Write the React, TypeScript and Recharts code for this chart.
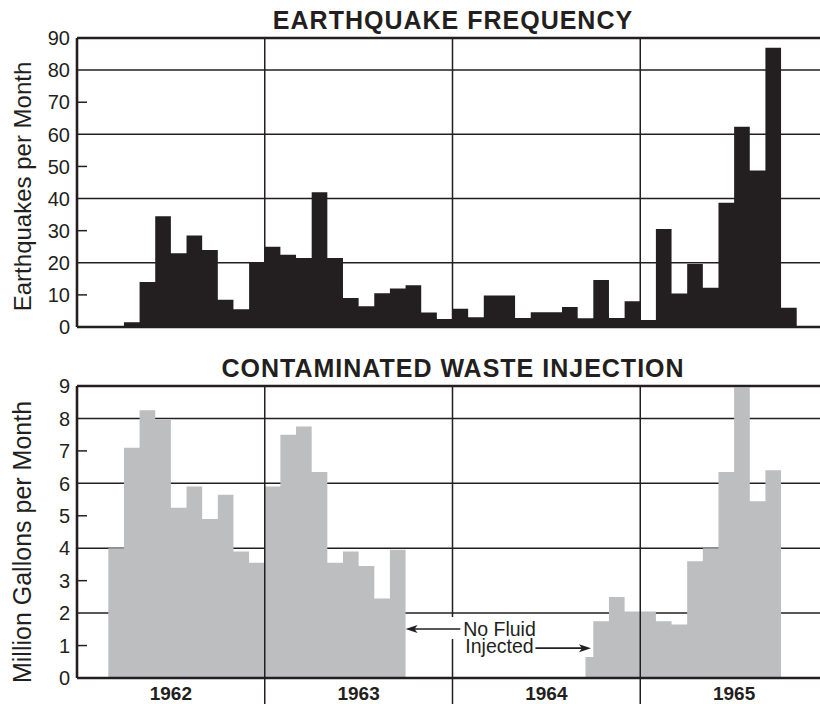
import { Area, CartesianGrid, ComposedChart, ReferenceDot, ReferenceLine, XAxis, YAxis } from 'recharts';

const FONT = '"Liberation Sans", Arial, Helvetica, sans-serif';
const INK = '#231f20';
const GRAY = '#bcbec0';

const years = ['1962', '1963', '1964', '1965'];

// earthquakes per month, Jan..Dec of each year
const quakes1962 = [0, 0, 0, 1.5, 14, 34.5, 23, 28.5, 24, 8.5, 5.5, 20];
const quakes1963 = [25, 22.5, 21.5, 42, 21.5, 9, 6.5, 10.5, 12, 13, 4.5, 2.5];
const quakes1964 = [5.7, 3, 9.8, 9.8, 2.8, 4.6, 4.6, 6.2, 2.7, 14.6, 2.8, 8];
const quakes1965 = [2.2, 30.5, 10.4, 19.6, 12.2, 38.7, 62.4, 48.7, 87, 6, 0, 0];

// million gallons injected per month
const waste1962 = [0, 0, 4, 7.1, 8.25, 7.95, 5.25, 5.9, 4.9, 5.65, 3.9, 3.55];
const waste1963 = [5.9, 7.5, 7.75, 6.35, 3.55, 3.9, 3.45, 2.45, 3.95, 0, 0, 0];
const waste1964 = [0, 0, 0, 0, 0, 0, 0, 0, 0.65, 1.75, 2.5, 2.05];
const waste1965 = [2.05, 1.75, 1.65, 3.6, 4, 6.35, 8.95, 5.45, 6.4, 0, 0, 0];

// injection resumed half way through Sep 1964
const resumed = { month: 32, fraction: 0.5 };

const quakeTicks = [0, 10, 20, 30, 40, 50, 60, 70, 80, 90];
const quakeGrid = [20, 40, 60, 80];
const wasteTicks = [0, 1, 2, 3, 4, 5, 6, 7, 8, 9];
const wasteGrid = [2, 4, 6, 8];
const yearBreaks = [12, 24, 36];
const yearCenters = [6, 18, 30, 42];

type Row = { t: number; v: number };

// monthly values -> step points (month index on x)
function toSteps(values: number[], split?: { month: number; fraction: number }): Row[] {
  const rows: Row[] = [];
  values.forEach((v, i) => {
    if (split && split.month === i) {
      rows.push({ t: i, v: 0 });
      rows.push({ t: i + split.fraction, v });
    } else {
      rows.push({ t: i, v });
    }
  });
  rows.push({ t: values.length, v: 0 });
  return rows;
}

const quakeData = toSteps([...quakes1962, ...quakes1963, ...quakes1964, ...quakes1965]);
const wasteData = toSteps([...waste1962, ...waste1963, ...waste1964, ...waste1965], resumed);

const makeYTick = (oddStep: number) => (p: any) => {
  const { x, y, payload } = p;
  const v = payload.value as number;
  const odd = Math.round(v / oddStep) % 2 === 1;
  return (
    <g>
      {odd && <line x1={x + 7} x2={x + 17} y1={y} y2={y} stroke={INK} strokeWidth={1.5} />}
      <text x={x} y={y} dy="0.36em" textAnchor="end" fontSize={20} fill={INK} fontFamily={FONT}>
        {v}
      </text>
    </g>
  );
};

const yearTick = (p: any) => {
  const { x, y, payload } = p;
  const t = payload.value as number;
  if (yearBreaks.includes(t)) {
    return <line x1={x} x2={x} y1={y} y2={y + 26} stroke={INK} strokeWidth={1.5} />;
  }
  return (
    <text x={x} y={y + 22} textAnchor="middle" fontSize={19} fontWeight="bold" fill={INK} fontFamily={FONT}>
      {years[(t - 6) / 12]}
    </text>
  );
};

const arrowShape = (p: any) => {
  const { x1, y1, x2, y2 } = p;
  const dir = Math.sign(x2 - x1) || 1;
  const head = 12;
  return (
    <g>
      <line x1={x1} y1={y1} x2={x2 - dir * 8} y2={y2} stroke={INK} strokeWidth={1.6} />
      <polygon
        points={`${x2},${y2} ${x2 - dir * head},${y2 - 4} ${x2 - dir * (head - 3)},${y2} ${x2 - dir * head},${y2 + 4}`}
        fill={INK}
      />
    </g>
  );
};

const noteShape = (p: any) => (
  <text fontFamily={FONT} fontSize={19.5} fill={INK} textAnchor="middle">
    <tspan x={p.cx} y={p.cy}>No Fluid</tspan>
    <tspan x={p.cx} y={p.cy + 17}>Injected</tspan>
  </text>
);

const titleStyle = (top: number): React.CSSProperties => ({
  position: 'absolute',
  left: 77,
  width: 752,
  top,
  textAlign: 'center',
  fontFamily: FONT,
  fontWeight: 'bold',
  fontSize: 25,
  lineHeight: '25px',
  letterSpacing: 1,
  color: INK,
  whiteSpace: 'nowrap',
});

// rotated axis title, shift moves it along the axis (px, downwards)
const yLabel = (value: string, size: number, shift: number) => ({
  value,
  content: (p: any) => {
    const vb = p.viewBox;
    const cx = 31;
    const cy = vb.y + vb.height / 2 + shift;
    return (
      <text
        x={cx}
        y={cy}
        transform={`rotate(-90 ${cx} ${cy})`}
        textAnchor="middle"
        fontSize={size}
        fill={INK}
        fontFamily={FONT}
      >
        {value}
      </text>
    );
  },
});

export default function App() {
  return (
    <div style={{ position: 'fixed', left: 0, top: 0, width: 820, height: 704, overflow: 'hidden', background: '#fff' }}>
      <div style={titleStyle(8)}>EARTHQUAKE FREQUENCY</div>
      <div style={titleStyle(356)}>CONTAMINATED WASTE INJECTION</div>

      <div style={{ position: 'absolute', left: 0, top: 0 }}>
        <ComposedChart width={860} height={340} data={quakeData} margin={{ top: 38, right: 32, left: 0, bottom: 0 }}>
          <CartesianGrid vertical={false} horizontalValues={quakeGrid} stroke={INK} strokeWidth={1.5} />
          <XAxis
            dataKey="t"
            type="number"
            domain={[0, 48]}
            ticks={yearBreaks}
            allowDataOverflow
            height={13}
            tick={false}
            tickLine={false}
            axisLine={{ stroke: INK, strokeWidth: 2.6 }}
          />
          <YAxis
            domain={[0, 90]}
            ticks={quakeTicks}
            interval={0}
            width={77}
            tickSize={0}
            tickMargin={7}
            tickLine={false}
            axisLine={{ stroke: INK, strokeWidth: 2.6 }}
            tick={makeYTick(10)}
            label={yLabel('Earthquakes per Month', 24, 4)}
          />
          <Area
            dataKey="v"
            type="stepAfter"
            stroke="none"
            fill={INK}
            fillOpacity={1}
            dot={false}
            activeDot={false}
            isAnimationActive={false}
          />
          {yearBreaks.map((t) => (
            <ReferenceLine key={t} x={t} stroke={INK} strokeWidth={1.5} />
          ))}
          <ReferenceLine y={90} stroke={INK} strokeWidth={2.4} />
        </ComposedChart>
      </div>

      <div style={{ position: 'absolute', left: 0, top: 340 }}>
        <ComposedChart width={860} height={364} data={wasteData} margin={{ top: 46, right: 32, left: 0, bottom: 0 }}>
          <CartesianGrid vertical={false} horizontalValues={wasteGrid} stroke={INK} strokeWidth={1.5} />
          <XAxis
            dataKey="t"
            type="number"
            domain={[0, 48]}
            ticks={[...yearCenters, ...yearBreaks].sort((a, b) => a - b)}
            interval={0}
            allowDataOverflow
            height={26}
            tickSize={0}
            tickMargin={0}
            tickLine={false}
            tick={yearTick}
            axisLine={{ stroke: INK, strokeWidth: 2.6 }}
          />
          <YAxis
            domain={[0, 9]}
            ticks={wasteTicks}
            interval={0}
            width={77}
            tickSize={0}
            tickMargin={7}
            tickLine={false}
            axisLine={{ stroke: INK, strokeWidth: 2.6 }}
            tick={makeYTick(1)}
            label={yLabel('Million Gallons per Month', 25, 10)}
          />
          <Area
            dataKey="v"
            type="stepAfter"
            stroke="none"
            fill={GRAY}
            fillOpacity={1}
            dot={false}
            activeDot={false}
            isAnimationActive={false}
          />
          {yearBreaks.map((t) => (
            <ReferenceLine key={t} x={t} stroke={INK} strokeWidth={1.5} />
          ))}
          <ReferenceLine y={9} stroke={INK} strokeWidth={2.4} />
          <ReferenceLine segment={[{ x: 24, y: 1.2 }, { x: 24, y: 1.88 }]} stroke="#fff" strokeWidth={5} />
          <ReferenceLine segment={[{ x: 24.5, y: 1.51 }, { x: 21, y: 1.51 }]} shape={arrowShape} />
          <ReferenceLine segment={[{ x: 29.3, y: 0.92 }, { x: 32.85, y: 0.92 }]} shape={arrowShape} />
          <ReferenceDot x={27} y={1.295} r={1} fill="none" stroke="none" shape={noteShape} />
        </ComposedChart>
      </div>
    </div>
  );
}
